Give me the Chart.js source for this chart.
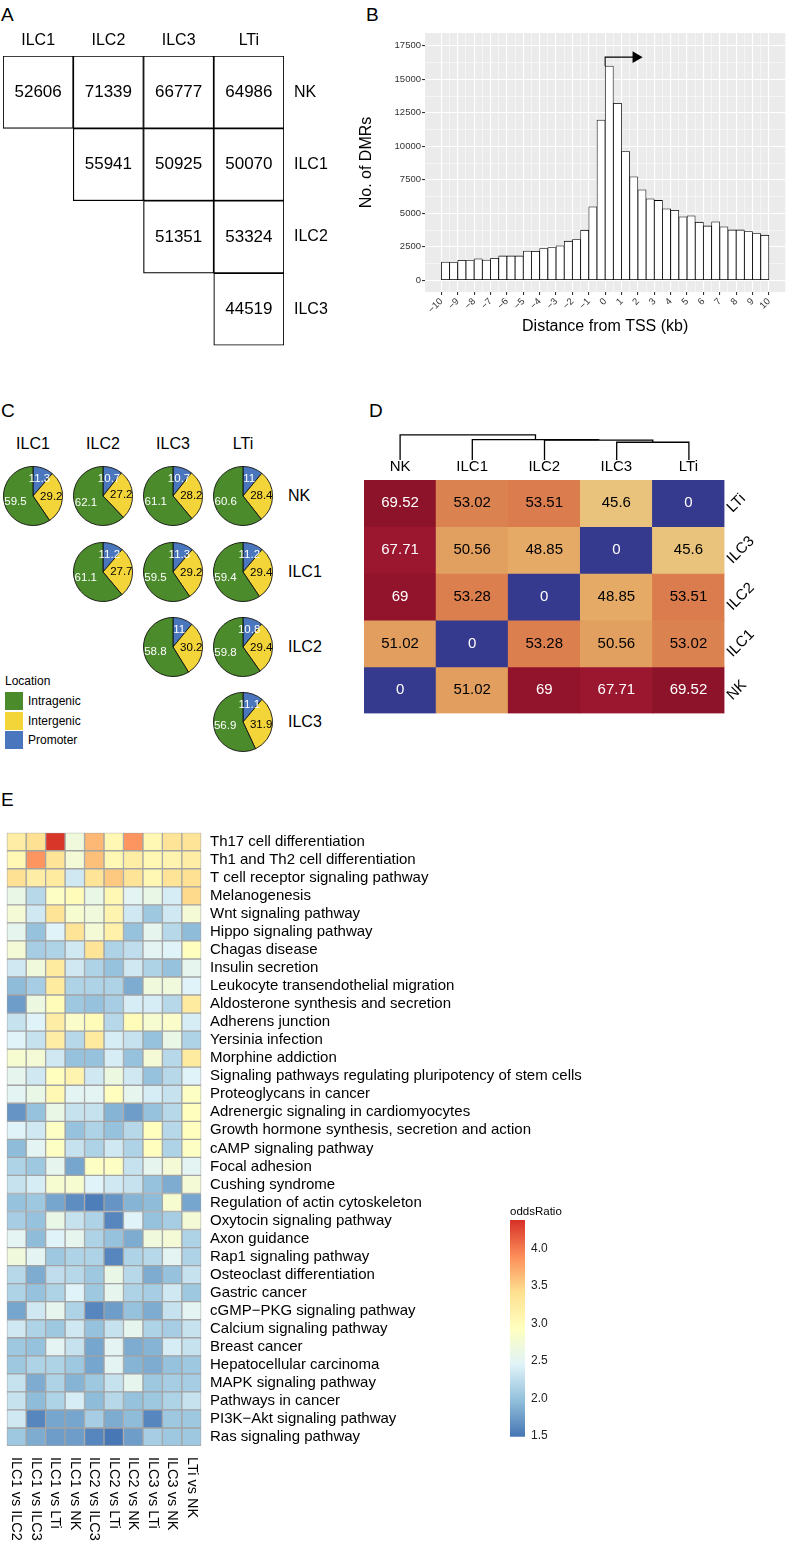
<!DOCTYPE html>
<html>
<head>
<meta charset="utf-8">
<title>DMR figure</title>
<script src="https://cdn.jsdelivr.net/npm/chart.js@4.4.1/dist/chart.umd.min.js"></script>
<style>
  html, body { margin: 0; padding: 0; background: #fff; }
  body { position: relative; width: 792px; height: 1542px; overflow: hidden;
         font-family: "Liberation Sans", Arial, Helvetica, sans-serif; color: #000; }
  canvas { position: absolute; }
  .txt { position: absolute; white-space: nowrap; line-height: 1; }
  .swatch { position: absolute; width: 18px; height: 18px; }
</style>
</head>
<body>
<script>
/* ---------- data ---------- */

// A: number of DMRs per pair
const dmrCols = ['ILC1', 'ILC2', 'ILC3', 'LTi'];
const dmrRows = ['NK', 'ILC1', 'ILC2', 'ILC3'];
const dmrCounts = [
    [52606, 71339, 66777, 64986],
    [null, 55941, 50925, 50070],
    [null, null, 51351, 53324],
    [null, null, null, 44519]
];

// B: DMRs per 0.5 kb bin around the TSS
const binStarts = Array.from({ length: 40 }, (_, i) => -10 + i * 0.5);
const dmrPerBin = [1370, 1320, 1500, 1470, 1600, 1520, 1650, 1820, 1820, 1820,
    2190, 2170, 2370, 2440, 2570, 2920, 3040, 3740, 5480, 11960,
    15980, 13210, 9600, 7730, 6750, 6080, 5960, 5330, 5230, 4740,
    4810, 4340, 4060, 4360, 3990, 3760, 3760, 3640, 3490, 3370];
const distTicks = [-10, -9, -8, -7, -6, -5, -4, -3, -2, -1, 0, 1, 2, 3, 4, 5, 6, 7, 8, 9, 10];
const countTicks = [0, 2500, 5000, 7500, 10000, 12500, 15000, 17500];
const tssArrow = [{ x: 0, y: 15980 }, { x: 0, y: 16650 }, { x: 1.88, y: 16650 }];

// C: location of DMRs (%)
const pieCols = ['ILC1', 'ILC2', 'ILC3', 'LTi'];
const pieRows = ['NK', 'ILC1', 'ILC2', 'ILC3'];
const locationNames = ['Promoter', 'Intergenic', 'Intragenic'];
const promoterPct = [[11.3, 10.7, 10.7, 11], [null, 11.2, 11.3, 11.2], [null, null, 11, 10.8], [null, null, null, 11.1]];
const intergenicPct = [[29.2, 27.2, 28.2, 28.4], [null, 27.7, 29.2, 29.4], [null, null, 30.2, 29.4], [null, null, null, 31.9]];
const intragenicPct = [[59.5, 62.1, 61.1, 60.6], [null, 61.1, 59.5, 59.4], [null, null, 58.8, 59.8], [null, null, null, 56.9]];

// D: distance matrix + dendrogram
const distCols = ['NK', 'ILC1', 'ILC2', 'ILC3', 'LTi'];
const distRows = ['LTi', 'ILC3', 'ILC2', 'ILC1', 'NK'];
const distValues = [
    [69.52, 53.02, 53.51, 45.6, 0],
    [67.71, 50.56, 48.85, 0, 45.6],
    [69, 53.28, 0, 48.85, 53.51],
    [51.02, 0, 53.28, 50.56, 53.02],
    [0, 51.02, 69, 67.71, 69.52]
];
const dendroMerges = [['ILC3', 'LTi', 45.6], ['ILC2', 0, 51.2], ['ILC1', 1, 52.3], ['NK', 2, 64.3]];

// E: KEGG enrichment odds ratios
const comparisons = ['ILC1 vs ILC2', 'ILC1 vs ILC3', 'ILC1 vs LTi', 'ILC1 vs NK', 'ILC2 vs ILC3',
    'ILC2 vs LTi', 'ILC2 vs NK', 'ILC3 vs LTi', 'ILC3 vs NK', 'LTi vs NK'];
const pathways = [
    'Th17 cell differentiation', 'Th1 and Th2 cell differentiation', 'T cell receptor signaling pathway',
    'Melanogenesis', 'Wnt signaling pathway', 'Hippo signaling pathway', 'Chagas disease',
    'Insulin secretion', 'Leukocyte transendothelial migration', 'Aldosterone synthesis and secretion',
    'Adherens junction', 'Yersinia infection', 'Morphine addiction',
    'Signaling pathways regulating pluripotency of stem cells', 'Proteoglycans in cancer',
    'Adrenergic signaling in cardiomyocytes', 'Growth hormone synthesis, secretion and action',
    'cAMP signaling pathway', 'Focal adhesion', 'Cushing syndrome', 'Regulation of actin cytoskeleton',
    'Oxytocin signaling pathway', 'Axon guidance', 'Rap1 signaling pathway', 'Osteoclast differentiation',
    'Gastric cancer', 'cGMP\u2212PKG signaling pathway', 'Calcium signaling pathway', 'Breast cancer',
    'Hepatocellular carcinoma', 'MAPK signaling pathway', 'Pathways in cancer',
    'PI3K\u2212Akt signaling pathway', 'Ras signaling pathway'
];
const oddsRatio = [
    [3.2, 3.4, 4.35, 2.7, 3.65, 3.05, 3.85, 3.05, 3.35, 3.35],
    [3.05, 3.85, 3.35, 2.75, 3.6, 3.05, 3.2, 3.05, 3.1, 3.2],
    [3.4, 3.2, 3.25, 2.35, 3.35, 3.55, 3.35, 3.05, 3.35, 3.4],
    [2.6, 2.2, 2.9, 3.0, 2.6, 3.05, 2.5, 2.6, 2.4, 3.45],
    [2.75, 2.35, 3.35, 2.8, 2.7, 3.1, 2.35, 2.05, 2.35, 2.75],
    [2.55, 2.0, 2.45, 3.35, 2.75, 3.15, 2.0, 2.55, 2.2, 1.95],
    [2.75, 2.1, 2.15, 2.35, 3.35, 2.15, 2.25, 2.5, 2.45, 2.95],
    [2.35, 2.7, 3.25, 2.35, 2.15, 2.0, 2.35, 2.15, 2.0, 2.55],
    [1.95, 2.1, 3.25, 2.15, 2.15, 2.15, 1.85, 2.7, 2.7, 2.45],
    [1.75, 2.65, 3.0, 2.05, 2.0, 2.1, 2.4, 2.4, 2.2, 3.25],
    [2.3, 2.45, 3.2, 2.85, 3.0, 2.2, 3.0, 2.8, 2.85, 2.4],
    [2.45, 2.3, 3.2, 2.2, 3.25, 2.4, 2.3, 2.0, 2.6, 2.15],
    [2.8, 2.75, 2.35, 2.0, 2.0, 2.4, 2.0, 2.75, 2.2, 3.25],
    [2.55, 2.35, 2.95, 3.1, 2.35, 2.65, 2.35, 2.0, 2.2, 2.45],
    [2.5, 2.6, 3.05, 2.5, 2.5, 2.95, 2.55, 2.4, 2.3, 2.9],
    [1.7, 2.0, 2.6, 2.3, 2.3, 1.9, 1.75, 2.0, 2.2, 2.95],
    [2.45, 2.35, 2.9, 2.0, 2.15, 2.0, 2.2, 2.95, 2.2, 2.95],
    [1.95, 2.5, 2.9, 2.3, 2.15, 2.35, 2.15, 2.95, 2.15, 2.9],
    [2.15, 2.05, 2.55, 1.8, 2.9, 2.9, 2.3, 2.55, 2.75, 2.5],
    [2.3, 2.4, 2.8, 2.8, 2.45, 2.35, 2.3, 2.0, 1.85, 2.75],
    [2.0, 2.05, 1.8, 1.65, 1.55, 1.7, 1.9, 1.95, 2.8, 1.8],
    [2.1, 2.0, 2.6, 2.3, 2.15, 1.6, 2.45, 2.0, 2.1, 2.75],
    [2.5, 1.95, 2.45, 2.55, 2.15, 2.0, 1.85, 2.7, 2.75, 2.15],
    [2.7, 2.5, 2.05, 2.15, 2.15, 1.6, 2.15, 2.2, 2.5, 2.15],
    [2.2, 1.85, 2.25, 2.2, 2.05, 2.6, 2.2, 1.85, 2.0, 2.3],
    [2.15, 2.0, 2.15, 2.45, 2.05, 2.55, 2.15, 2.1, 2.35, 2.05],
    [1.8, 2.35, 2.55, 2.15, 1.6, 1.75, 2.0, 1.85, 2.3, 2.5],
    [2.35, 2.15, 2.05, 2.35, 2.0, 2.3, 2.55, 2.15, 2.1, 2.3],
    [2.05, 2.0, 2.5, 2.3, 1.8, 2.5, 1.85, 1.9, 2.4, 2.3],
    [2.05, 2.15, 2.15, 2.05, 1.8, 2.5, 1.9, 1.85, 2.0, 2.05],
    [2.3, 1.85, 2.15, 1.9, 2.05, 2.3, 2.55, 2.05, 2.1, 2.1],
    [2.3, 1.95, 2.15, 2.4, 1.95, 2.2, 2.0, 2.05, 2.15, 2.3],
    [2.35, 1.6, 1.8, 1.8, 2.1, 1.85, 1.95, 1.6, 2.05, 2.05],
    [2.05, 1.85, 1.75, 1.75, 1.6, 1.5, 1.75, 2.1, 2.05, 2.05]
];
const oddsLow = 1.49, oddsHigh = 4.38;
const oddsTicks = [1.5, 2.0, 2.5, 3.0, 3.5, 4.0];

/* ---------- helpers ---------- */

const FONT = '"Liberation Sans", Arial, Helvetica, sans-serif';
Chart.defaults.font.family = FONT;
Chart.defaults.color = '#000';

const base = {
    responsive: false, animation: false, devicePixelRatio: 1, events: [],
    plugins: { legend: { display: false }, tooltip: { enabled: false } }
};
function opts(extra) {
    return Object.assign({}, base, extra, { plugins: Object.assign({}, base.plugins, extra.plugins || {}) });
}

function makeCanvas(left, top, w, h) {
    const c = document.createElement('canvas');
    c.width = w; c.height = h;
    c.style.left = left + 'px'; c.style.top = top + 'px';
    c.style.width = w + 'px'; c.style.height = h + 'px';
    document.body.appendChild(c);
    return c.getContext('2d');
}

function addText(text, x, y, size, anchor) {
    const d = document.createElement('div');
    d.className = 'txt';
    d.textContent = text;
    d.style.fontSize = size + 'px';
    d.style.left = x + 'px';
    d.style.top = y + 'px';
    d.style.transform = 'translate(' + (anchor === 'center' ? '-50%' : '0') + ', -50%)';
    document.body.appendChild(d);
}

function hexRgb(h) { return [1, 3, 5].map(i => parseInt(h.substr(i, 2), 16)); }
function mix(a, b, t) {
    const A = hexRgb(a), B = hexRgb(b);
    return 'rgb(' + A.map((v, i) => Math.round(v + (B[i] - v) * t)).join(',') + ')';
}
function rampColor(stops, v) {
    if (v <= stops[0][0]) return stops[0][1];
    for (let i = 1; i < stops.length; i++) {
        if (v <= stops[i][0]) {
            const t = (v - stops[i - 1][0]) / (stops[i][0] - stops[i - 1][0]);
            return mix(stops[i - 1][1], stops[i][1], t);
        }
    }
    return stops[stops.length - 1][1];
}

// RdYlBu (reversed) for the odds ratio heatmap
const rdylbu = ['#4575b4', '#91bfdb', '#e0f3f8', '#ffffbf', '#fee090', '#fc8d59', '#d73027'];
const oddsStops = rdylbu.map((c, i) => [oddsLow + (oddsHigh - oddsLow) * i / 6, c]);
const heatColor = v => rampColor(oddsStops, v);

// palette as it appears in panel D
const distStops = [[0, '#363a8e'], [45, '#eac77f'], [49, '#e6a966'], [51, '#e19e5e'],
    [53.5, '#da7c4d'], [60, '#c04a3c'], [67.5, '#9d1630'], [70, '#891229']];
const distColor = v => rampColor(distStops, v);

const locationColors = ['#4a76bd', '#f3d53a', '#4b8b2b'];
const locationText = ['#fff', '#000', '#fff'];

/* ---------- panel letters ---------- */
addText('A', 1, 13.5, 19);
addText('B', 366, 13.5, 19);
addText('C', 1, 410, 19);
addText('D', 369, 410, 19);
addText('E', 1, 799, 19);

/* ---------- A: DMR counts grid ---------- */
const countText = {
    id: 'countText',
    afterDatasetsDraw(chart) {
        const { ctx, scales: { x, y } } = chart;
        ctx.save();
        ctx.font = '17px ' + FONT;
        ctx.fillStyle = '#000';
        ctx.textAlign = 'center';
        ctx.textBaseline = 'middle';
        dmrCounts.forEach((row, r) => row.forEach((v, c) => {
            if (v != null) ctx.fillText(String(v), x.getPixelForValue(c), y.getPixelForValue(r + 0.5));
        }));
        ctx.restore();
    }
};

new Chart(makeCanvas(0, 25, 340, 340), {
    type: 'bar',
    data: {
        labels: dmrCols,
        datasets: dmrRows.map((row, r) => ({
            data: dmrCounts[r].map(v => v == null ? null : [r, r + 1]),
            backgroundColor: '#fff', borderColor: '#000', borderWidth: 1.2, borderSkipped: false,
            grouped: false, barPercentage: 1, categoryPercentage: 1
        }))
    },
    options: opts({
        layout: { padding: { left: 3, bottom: 5 } },
        scales: {
            x: {
                position: 'top', grid: { display: false, drawTicks: false }, border: { display: false },
                ticks: { font: { size: 16 }, padding: 6 },
                afterFit: s => { s.height = 31; }
            },
            y: {
                position: 'right', reverse: true, min: 0, max: 4,
                grid: { display: false, drawTicks: false }, border: { display: false },
                afterBuildTicks: s => { s.ticks = dmrRows.map((_, i) => ({ value: i + 0.5 })); },
                ticks: { font: { size: 16 }, padding: 10, callback: v => dmrRows[Math.floor(v)] },
                afterFit: s => { s.width = 56; }
            }
        }
    }),
    plugins: [countText]
});

/* ---------- B: distance from TSS histogram ---------- */
const greyPanel = {
    id: 'greyPanel',
    beforeDraw(chart) {
        const { ctx, chartArea: a } = chart;
        ctx.save();
        ctx.fillStyle = '#ebebeb';
        ctx.fillRect(a.left, a.top, a.right - a.left, a.bottom - a.top);
        ctx.restore();
    }
};
const isMajorX = v => distTicks.includes(v);
const isMajorY = v => countTicks.includes(v);

new Chart(makeCanvas(350, 0, 442, 340), {
    type: 'bar',
    data: {
        datasets: [
            {
                type: 'scatter', data: tssArrow, showLine: true,
                borderColor: '#000', borderWidth: 1.1,
                pointStyle: 'triangle', pointRotation: 90,
                pointRadius: c => c.dataIndex === tssArrow.length - 1 ? 6.7 : 0,
                pointBackgroundColor: '#000', pointBorderColor: '#000', pointBorderWidth: 0
            },
            {
                type: 'bar',
                data: binStarts.map((s, i) => ({ x: s + 0.25, y: dmrPerBin[i] })),
                backgroundColor: '#fff', borderColor: '#000', borderWidth: 0.8, borderSkipped: false,
                barPercentage: 1, categoryPercentage: 1
            }
        ]
    },
    options: opts({
        layout: { padding: { top: 33, right: 2 } },
        scales: {
            x: {
                type: 'linear', min: -11, max: 11, offset: false,
                grid: {
                    offset: false, color: '#fff',
                    lineWidth: c => isMajorX(c.tick.value) ? 1.1 : 0.5,
                    tickColor: c => isMajorX(c.tick.value) ? '#333' : 'rgba(0,0,0,0)',
                    tickLength: 3
                },
                border: { display: false },
                afterBuildTicks: s => {
                    const t = [];
                    for (let i = 0; i < distTicks.length; i++) {
                        t.push({ value: distTicks[i] });
                        if (i < distTicks.length - 1) t.push({ value: distTicks[i] + 0.5 });
                    }
                    s.ticks = t;
                },
                ticks: {
                    autoSkip: false, minRotation: 45, maxRotation: 45, padding: 1,
                    font: { size: 9.5 }, color: '#333',
                    callback: v => isMajorX(v) ? String(v).replace('-', '\u2212') : ''
                },
                title: {
                    display: true, text: 'Distance from TSS (kb)', font: { size: 16 }, color: '#000',
                    padding: { top: 0, bottom: 3.4 }
                },
                afterFit: s => { s.height = 48; }
            },
            y: {
                min: -870, max: 18450,
                grid: {
                    color: '#fff',
                    lineWidth: c => isMajorY(c.tick.value) ? 1.1 : 0.5,
                    tickColor: c => isMajorY(c.tick.value) ? '#333' : 'rgba(0,0,0,0)',
                    tickLength: 3
                },
                border: { display: false },
                afterBuildTicks: s => {
                    const t = [];
                    countTicks.forEach((v, i) => {
                        t.push({ value: v });
                        if (i < countTicks.length - 1) t.push({ value: v + 1250 });
                    });
                    s.ticks = t;
                },
                ticks: {
                    padding: 1, font: { size: 9.5 }, color: '#333',
                    callback: v => isMajorY(v) ? String(v) : ''
                },
                title: {
                    display: true, text: 'No. of DMRs', font: { size: 16 }, color: '#000',
                    padding: { top: 7.4, bottom: 0 }
                },
                afterFit: s => { s.width = 75; }
            }
        }
    }),
    plugins: [greyPanel]
});

/* ---------- C: DMR location pies ---------- */
const pieLabels = {
    id: 'pieLabels',
    afterDatasetsDraw(chart) {
        const ctx = chart.ctx;
        const vals = chart.data.datasets[0].data;
        ctx.save();
        ctx.font = '11.5px ' + FONT;
        ctx.textAlign = 'center';
        ctx.textBaseline = 'middle';
        chart.getDatasetMeta(0).data.forEach((arc, i) => {
            const p = arc.getProps(['x', 'y', 'startAngle', 'endAngle', 'outerRadius'], true);
            const mid = (p.startAngle + p.endAngle) / 2;
            const r = p.outerRadius * 0.62;
            ctx.fillStyle = locationText[i];
            ctx.fillText(String(vals[i]), p.x + Math.cos(mid) * r, p.y + Math.sin(mid) * r);
        });
        ctx.restore();
    }
};

const pieX = [33, 103, 173, 243];
const pieY = [495.5, 572, 647, 721.5];
pieCols.forEach((name, c) => addText(name, pieX[c], 443.5, 16, 'center'));
pieRows.forEach((name, r) => addText(name, 288, pieY[r], 16));

pieRows.forEach((rowName, r) => {
    pieCols.forEach((colName, c) => {
        if (promoterPct[r][c] == null) return;
        new Chart(makeCanvas(pieX[c] - 32, pieY[r] - 32, 64, 64), {
            type: 'pie',
            data: {
                labels: locationNames,
                datasets: [{
                    data: [promoterPct[r][c], intergenicPct[r][c], intragenicPct[r][c]],
                    backgroundColor: locationColors, borderColor: '#111', borderWidth: 0.9
                }]
            },
            options: opts({ layout: { padding: 2 } }),
            plugins: [pieLabels]
        });
    });
});

// legend
addText('Location', 5, 681, 12);
const legendOrder = [2, 1, 0];
legendOrder.forEach((k, i) => {
    const sw = document.createElement('div');
    sw.className = 'swatch';
    sw.style.left = '5px';
    sw.style.top = (692 + i * 19.5) + 'px';
    sw.style.background = locationColors[k];
    document.body.appendChild(sw);
    addText(['Intragenic', 'Intergenic', 'Promoter'][i], 28, 701 + i * 19.5, 12);
});

/* ---------- D: dendrogram + distance heatmap ---------- */
const dendroNodes = [];
const dendroSegments = dendroMerges.map(([a, b, h]) => {
    const pos = ref => typeof ref === 'string' ? { x: distCols.indexOf(ref) + 0.5, h: 0 } : dendroNodes[ref];
    const A = pos(a), B = pos(b);
    dendroNodes.push({ x: (A.x + B.x) / 2, h: h });
    return [{ x: A.x, y: A.h }, { x: A.x, y: h }, { x: B.x, y: h }, { x: B.x, y: B.h }];
});

new Chart(makeCanvas(364, 430, 361, 30), {
    type: 'scatter',
    data: {
        datasets: dendroSegments.map(seg => ({
            data: seg, showLine: true, borderColor: '#000', borderWidth: 1.3, pointRadius: 0
        }))
    },
    options: opts({
        layout: { padding: 0 },
        scales: {
            x: { display: false, min: 0, max: 5 },
            y: { display: false, min: 0, max: 77 }
        }
    })
});

const distText = {
    id: 'distText',
    afterDatasetsDraw(chart) {
        const { ctx, chartArea, scales: { x, y } } = chart;
        ctx.save();
        ctx.font = '15px ' + FONT;
        ctx.textAlign = 'center';
        ctx.textBaseline = 'middle';
        distValues.forEach((row, r) => row.forEach((v, c) => {
            ctx.fillStyle = (v === 0 || v >= 60) ? '#fff' : '#000';
            ctx.fillText(String(v), x.getPixelForValue(c), y.getPixelForValue(r + 0.5));
        }));
        ctx.fillStyle = '#000';
        distRows.forEach((name, r) => {
            const w = ctx.measureText(name).width;
            ctx.save();
            ctx.translate(chartArea.right + 5 + w * 0.354, y.getPixelForValue(r + 0.5));
            ctx.rotate(-Math.PI / 4);
            ctx.fillText(name, 0, 0);
            ctx.restore();
        });
        ctx.restore();
    }
};

new Chart(makeCanvas(340, 455, 452, 265), {
    type: 'bar',
    data: {
        labels: distCols,
        datasets: distRows.map((row, r) => ({
            data: distCols.map(() => [r, r + 1]),
            backgroundColor: distValues[r].map(distColor),
            borderWidth: 0, grouped: false, barPercentage: 1, categoryPercentage: 1
        }))
    },
    options: opts({
        layout: { padding: { left: 24, right: 67.5, bottom: 6.5 } },
        scales: {
            x: {
                position: 'top', grid: { display: false, drawTicks: false }, border: { display: false },
                ticks: { font: { size: 15 }, padding: 4 },
                afterFit: s => { s.height = 25; }
            },
            y: { display: false, min: 0, max: 5, reverse: true }
        }
    }),
    plugins: [distText]
});

/* ---------- E: pathway odds ratio heatmap ---------- */
const compLabels = {
    id: 'compLabels',
    afterDraw(chart) {
        const { ctx, chartArea, scales: { x } } = chart;
        ctx.save();
        ctx.font = '14.5px ' + FONT;
        ctx.fillStyle = '#000';
        ctx.textAlign = 'left';
        ctx.textBaseline = 'middle';
        comparisons.forEach((name, c) => {
            ctx.save();
            ctx.translate(x.getPixelForValue(c + 0.5), chartArea.bottom + 11);
            ctx.rotate(Math.PI / 2);
            ctx.fillText(name, 0, 0);
            ctx.restore();
        });
        ctx.restore();
    }
};

new Chart(makeCanvas(0, 815, 625, 727), {
    type: 'bar',
    data: {
        labels: pathways,
        datasets: comparisons.map((name, c) => ({
            data: pathways.map(() => [c, c + 1]),
            backgroundColor: oddsRatio.map(row => heatColor(row[c])),
            borderColor: '#a3a3a3', borderWidth: 1, borderSkipped: false,
            grouped: false, barPercentage: 1, categoryPercentage: 1
        }))
    },
    options: opts({
        indexAxis: 'y',
        layout: { padding: { left: 6.7, top: 6, bottom: 96 } },
        scales: {
            x: { display: false, min: 0, max: 10 },
            y: {
                position: 'right', grid: { display: false, drawTicks: false }, border: { display: false },
                ticks: { autoSkip: false, font: { size: 15 }, padding: 8.7 },
                afterFit: s => { s.width = 423.7; }
            }
        }
    }),
    plugins: [compLabels]
});

// colour bar legend
addText('oddsRatio', 510, 1212, 11.5);
new Chart(makeCanvas(480, 1200, 100, 250), {
    type: 'bar',
    data: {
        labels: ['oddsRatio'],
        datasets: [{
            data: [[oddsLow, oddsHigh]],
            backgroundColor: c => {
                const area = c.chart.chartArea;
                if (!area) return rdylbu[0];
                const g = c.chart.ctx.createLinearGradient(0, area.bottom, 0, area.top);
                rdylbu.forEach((col, i) => g.addColorStop(i / 6, col));
                return g;
            },
            borderWidth: 0, barPercentage: 1, categoryPercentage: 1
        }]
    },
    options: opts({
        layout: { padding: { left: 30, top: 20, bottom: 9 } },
        scales: {
            x: { display: false },
            y: {
                position: 'right', min: oddsLow, max: oddsHigh,
                grid: { display: false, drawTicks: false }, border: { display: false },
                afterBuildTicks: s => { s.ticks = oddsTicks.map(v => ({ value: v })); },
                ticks: { font: { size: 12 }, padding: 6, color: '#222', callback: v => v.toFixed(1) },
                afterFit: s => { s.width = 55; }
            }
        }
    })
});
</script>
</body>
</html>
